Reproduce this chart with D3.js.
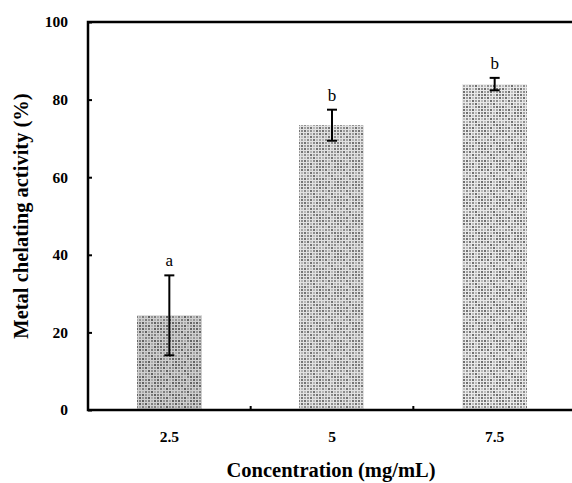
<!DOCTYPE html>
<html>
<head>
<meta charset="utf-8">
<script src="https://cdn.jsdelivr.net/npm/d3@7"></script>
<style>
  body { margin: 0; background: #fff; }
  text { font-family: "Liberation Serif", "DejaVu Serif", serif; }
</style>
</head>
<body>
<div id="chart"></div>
<script>
const categories = ['2.5', '5', '7.5'];
const means = [24.4, 73.4, 84.0];
const errors = [10.3, 4.0, 1.6];
const letters = ['a', 'b', 'b'];
const yTicks = [0, 20, 40, 60, 80, 100];

const svgWidth = 572, svgHeight = 483;
const margin = { top: 22, left: 88, right: -4, bottom: 73 };
const chartWidth = svgWidth - margin.left - margin.right;
const chartHeight = svgHeight - margin.top - margin.bottom;

const svg = d3.select('#chart').append('svg')
    .attr('width', svgWidth)
    .attr('height', svgHeight);

// stippled grey fills: 3px cells of varying grey split by light grid lines
const cellTones = [
    [0, 2, 1, 3, 0, 1],
    [2, 0, 3, 1, 2, 0],
    [1, 3, 0, 2, 1, 3],
    [3, 1, 2, 0, 3, 2],
    [0, 2, 3, 1, 0, 1],
    [2, 1, 0, 3, 2, 0]
];
const shades = [
    { id: 'fill0', tones: ['#626262', '#7e7e7e', '#949494', '#aaaaaa'], line: '#d0d0d0' },
    { id: 'fill1', tones: ['#747474', '#8c8c8c', '#a0a0a0', '#b6b6b6'], line: '#e2e2e2' },
    { id: 'fill2', tones: ['#707070', '#8e8e8e', '#a2a2a2', '#bcbcbc'], line: '#eaeaea' }
];
const defs = svg.append('defs');
shades.forEach(s => {
    const n = cellTones.length;
    const p = defs.append('pattern')
        .attr('id', s.id)
        .attr('width', n * 3).attr('height', n * 3)
        .attr('patternUnits', 'userSpaceOnUse');
    p.append('rect').attr('width', n * 3).attr('height', n * 3).attr('fill', s.line);
    cellTones.forEach((row, r) => row.forEach((t, c) => {
        p.append('rect')
            .attr('x', c * 3).attr('y', r * 3)
            .attr('width', 2).attr('height', 2)
            .attr('fill', s.tones[t]);
    }));
});

const chart = svg.append('g')
    .attr('transform', `translate(${margin.left},${margin.top})`);

const xScale = d3.scaleBand().domain(categories).range([0, chartWidth]);
const yScale = d3.scaleLinear().domain([0, 100]).range([chartHeight, 0]);
const barWidth = xScale.bandwidth() * 0.4;

// bars
chart.selectAll('.bar').data(categories).enter().append('rect')
    .attr('class', 'bar')
    .attr('x', d => Math.round(xScale(d) + (xScale.bandwidth() - barWidth) / 2))
    .attr('width', Math.round(barWidth))
    .attr('y', (d, i) => yScale(means[i]))
    .attr('height', (d, i) => yScale(0) - yScale(means[i]))
    .attr('fill', (d, i) => `url(#${shades[i].id})`);

// error bars
const errWrap = chart.append('g').attr('stroke', '#000').attr('stroke-width', 2);
categories.forEach((c, i) => {
    const cx = xScale(c) + xScale.bandwidth() / 2;
    const y1 = yScale(means[i] + errors[i]);
    const y2 = yScale(means[i] - errors[i]);
    errWrap.append('line').attr('x1', cx).attr('x2', cx).attr('y1', y1).attr('y2', y2);
    errWrap.append('line').attr('x1', cx - 5).attr('x2', cx + 5).attr('y1', y1).attr('y2', y1);
    errWrap.append('line').attr('x1', cx - 5).attr('x2', cx + 5).attr('y1', y2).attr('y2', y2);
    chart.append('text')
        .attr('x', cx)
        .attr('y', y1 - 9)
        .attr('text-anchor', 'middle')
        .attr('font-size', 17)
        .attr('fill', '#000')
        .text(letters[i]);
});

// axes
const yAxis = d3.axisLeft(yScale).tickValues(yTicks).tickSize(-4).tickPadding(20);
const xAxis = d3.axisBottom(xScale).tickSize(0).tickPadding(21);

const yAxisG = chart.append('g').call(yAxis);
const xAxisG = chart.append('g').attr('transform', `translate(0,${chartHeight})`).call(xAxis);

[yAxisG, xAxisG].forEach(g => {
    g.select('.domain').remove();
    g.selectAll('text')
        .attr('font-family', '"Liberation Serif", serif')
        .attr('font-weight', 'bold')
        .attr('font-size', 15.5)
        .attr('fill', '#000');
    g.selectAll('.tick line').attr('stroke', '#000').attr('stroke-width', 2);
});

// inner ticks on x axis at category boundaries
chart.selectAll('.x-boundary').data(categories.slice(1)).enter().append('line')
    .attr('class', 'x-boundary')
    .attr('x1', d => xScale(d)).attr('x2', d => xScale(d))
    .attr('y1', chartHeight).attr('y2', chartHeight - 4)
    .attr('stroke', '#000').attr('stroke-width', 2);

// frame: left, top, bottom
chart.append('path')
    .attr('d', `M${chartWidth},0H0V${chartHeight}H${chartWidth}`)
    .attr('fill', 'none')
    .attr('stroke', '#000')
    .attr('stroke-width', 2.5);

// titles
svg.append('text')
    .attr('transform', `translate(28,${margin.top + chartHeight / 2}) rotate(-90)`)
    .attr('text-anchor', 'middle')
    .attr('font-weight', 'bold')
    .attr('font-size', 20.5)
    .text('Metal chelating activity (%)');

svg.append('text')
    .attr('x', 331)
    .attr('y', 477)
    .attr('text-anchor', 'middle')
    .attr('font-weight', 'bold')
    .attr('font-size', 20.5)
    .text('Concentration (mg/mL)');
</script>
</body>
</html>
